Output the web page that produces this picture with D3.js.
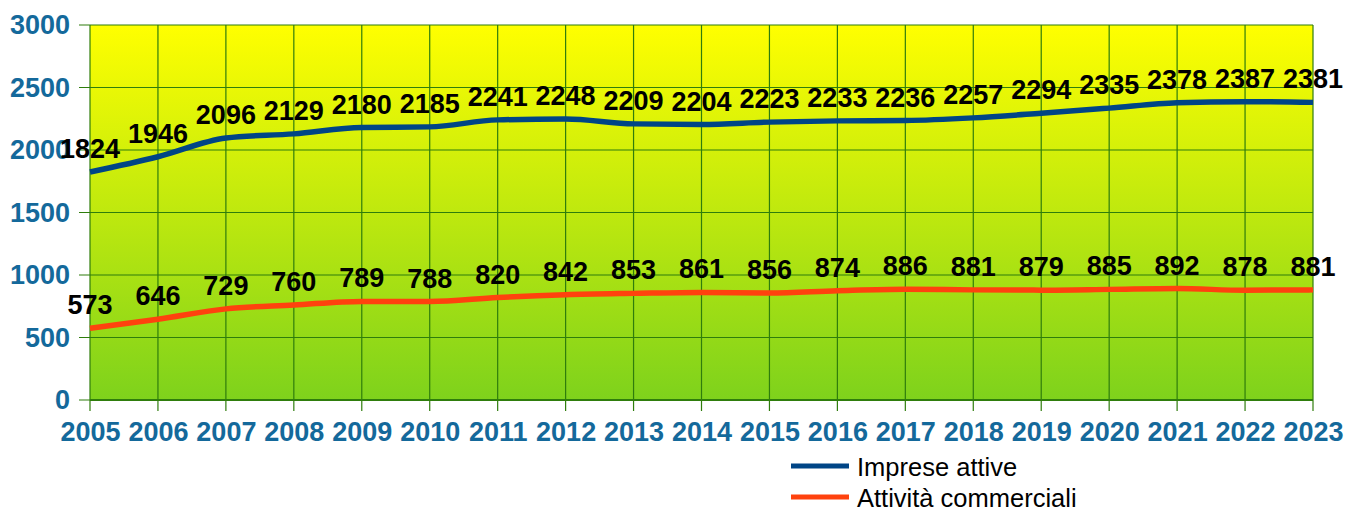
<!DOCTYPE html>
<html>
<head>
<meta charset="utf-8">
<script src="https://cdn.jsdelivr.net/npm/d3@7"></script>
<style>
  body { margin: 0; background: #fff; }
  text { font-family: "Liberation Sans", Arial, sans-serif; }
</style>
</head>
<body>
<div id="chart"></div>
<script>
// dati
const years = ["2005","2006","2007","2008","2009","2010","2011","2012","2013","2014","2015","2016","2017","2018","2019","2020","2021","2022","2023"];
const imprese = [1824,1946,2096,2129,2180,2185,2241,2248,2209,2204,2223,2233,2236,2257,2294,2335,2378,2387,2381];
const commerciali = [573,646,729,760,789,788,820,842,853,861,856,874,886,881,879,885,892,878,881];
const yTicks = [0,500,1000,1500,2000,2500,3000];
const seriesNames = ["Imprese attive", "Attività commerciali"];
const colors = ["#004586", "#ff420e"];

const W = 1359, H = 507;
const plot = { left: 90, right: 1313, top: 25, bottom: 400 };

const svg = d3.select("#chart").append("svg")
  .attr("width", W).attr("height", H);

const defs = svg.append("defs");
const grad = defs.append("linearGradient")
  .attr("id", "bg").attr("x1", 0).attr("y1", 0).attr("x2", 0).attr("y2", 1);
grad.append("stop").attr("offset", "0%").attr("stop-color", "#ffff00");
grad.append("stop").attr("offset", "100%").attr("stop-color", "#7ed21c");

const x = d3.scalePoint().domain(years).range([plot.left, plot.right]);
const y = d3.scaleLinear().domain([0, 3000]).range([plot.bottom, plot.top]);

svg.append("rect")
  .attr("x", plot.left).attr("y", plot.top)
  .attr("width", plot.right - plot.left).attr("height", plot.bottom - plot.top)
  .attr("fill", "url(#bg)");

// griglia
svg.append("g").selectAll("line").data(yTicks).enter().append("line")
  .attr("x1", plot.left - 11).attr("x2", plot.right)
  .attr("y1", d => y(d)).attr("y2", d => y(d))
  .attr("stroke", "#2f7d0c").attr("stroke-width", 1.2);

svg.append("g").selectAll("line").data(years).enter().append("line")
  .attr("x1", d => x(d)).attr("x2", d => x(d))
  .attr("y1", plot.top).attr("y2", plot.bottom + 11)
  .attr("stroke", "#2f7d0c").attr("stroke-width", 1.2);

svg.append("line")
  .attr("x1", plot.left).attr("x2", plot.right)
  .attr("y1", plot.bottom).attr("y2", plot.bottom)
  .attr("stroke", "#2f7d0c").attr("stroke-width", 2);

// etichette assi
const yAxis = d3.axisLeft(y).tickValues(yTicks).tickFormat(d3.format("d")).tickSize(0).tickPadding(20);
const gy = svg.append("g").attr("transform", `translate(${plot.left},0)`).call(yAxis);
gy.select(".domain").remove();
gy.selectAll("text")
  .attr("fill", "#14699b").attr("font-size", 27).attr("font-weight", "bold")
  .attr("font-family", "Liberation Sans, Arial, sans-serif");

const xAxis = d3.axisBottom(x).tickSize(0).tickPadding(22);
const gx = svg.append("g").attr("transform", `translate(0,${plot.bottom})`).call(xAxis);
gx.select(".domain").remove();
gx.selectAll("text")
  .attr("fill", "#14699b").attr("font-size", 27).attr("font-weight", "bold")
  .attr("font-family", "Liberation Sans, Arial, sans-serif");

// linee
const series = [imprese, commerciali];
const line = d3.line()
  .x((d, i) => x(years[i]))
  .y(d => y(d))
  .curve(d3.curveMonotoneX);

series.forEach((s, k) => {
  svg.append("path").datum(s)
    .attr("d", line)
    .attr("fill", "none")
    .attr("stroke", colors[k])
    .attr("stroke-width", 5.5);
});

series.forEach(s => {
  svg.append("g").selectAll("text").data(s).enter().append("text")
    .attr("x", (d, i) => x(years[i]))
    .attr("y", d => y(d) - 14)
    .attr("text-anchor", "middle")
    .attr("font-size", 27).attr("font-weight", "bold")
    .attr("fill", "#000")
    .text(d => d);
});

// legenda
const leg = svg.append("g");
seriesNames.forEach((n, k) => {
  const ly = 466 + k * 31;
  leg.append("line")
    .attr("x1", 791).attr("x2", 849).attr("y1", ly).attr("y2", ly)
    .attr("stroke", colors[k]).attr("stroke-width", 5);
  leg.append("text")
    .attr("x", 857).attr("y", ly + 9.5)
    .attr("font-size", 25.5).attr("fill", "#000")
    .text(n);
});
</script>
</body>
</html>
